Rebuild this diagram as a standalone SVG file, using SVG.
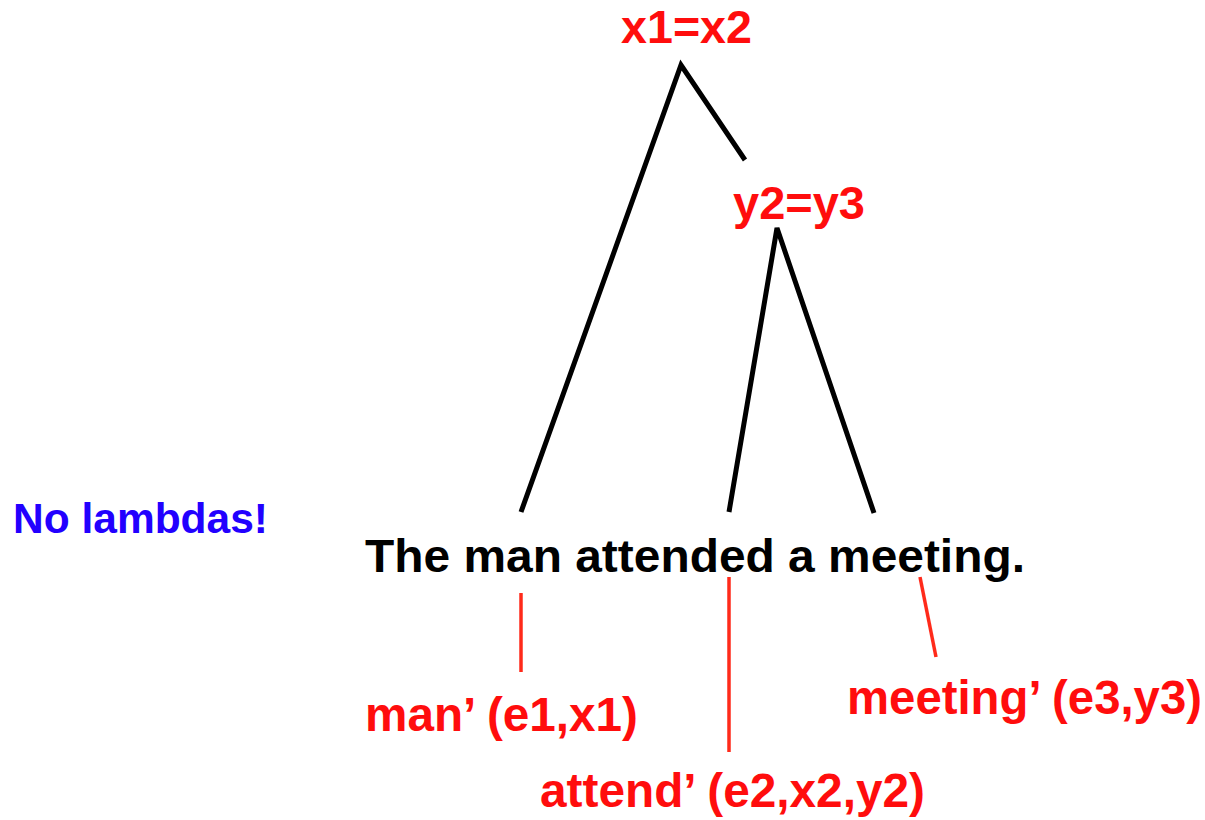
<svg xmlns="http://www.w3.org/2000/svg" width="1205" height="820" viewBox="0 0 1205 820">
<style>
.t{font-family:"Liberation Sans",Arial,sans-serif;font-weight:bold}
.red{fill:#ff0d0d}
.blk{stroke:#000;stroke-width:5;fill:none;stroke-linecap:butt}
.rl{stroke:#ff2a1a;stroke-width:3.5;fill:none}
</style>
<rect width="1205" height="820" fill="#fff"/>
<g id="connectors">
<path class="blk" d="M521 512 L681 65 L745 160"/>
<path class="blk" d="M729 512 L777 228 L874 513"/>
<line class="rl" x1="521" y1="593" x2="521" y2="672"/>
<line class="rl" x1="729" y1="577" x2="729" y2="752"/>
<line class="rl" x1="920" y1="577" x2="936" y2="657"/>
</g>
<g id="root"><text class="t red" x="621" y="43" font-size="46" textLength="131" lengthAdjust="spacingAndGlyphs">x1=x2</text></g>
<g id="vp"><text class="t red" x="733" y="219" font-size="46" textLength="132" lengthAdjust="spacingAndGlyphs">y2=y3</text></g>
<g id="sentence"><text class="t" x="365" y="572" font-size="47" fill="#000" textLength="660" lengthAdjust="spacingAndGlyphs">The man attended a meeting.</text></g>
<g id="note"><text class="t" x="13" y="533" font-size="42" fill="#2200ff" textLength="255" lengthAdjust="spacingAndGlyphs">No lambdas!</text></g>
<g id="man"><text class="t red" x="365" y="731" font-size="48" textLength="273" lengthAdjust="spacingAndGlyphs">man’ (e1,x1)</text></g>
<g id="attend"><text class="t red" x="540" y="807" font-size="48" textLength="385" lengthAdjust="spacingAndGlyphs">attend’ (e2,x2,y2)</text></g>
<g id="meeting"><text class="t red" x="847" y="714" font-size="48" textLength="355" lengthAdjust="spacingAndGlyphs">meeting’ (e3,y3)</text></g>
</svg>
